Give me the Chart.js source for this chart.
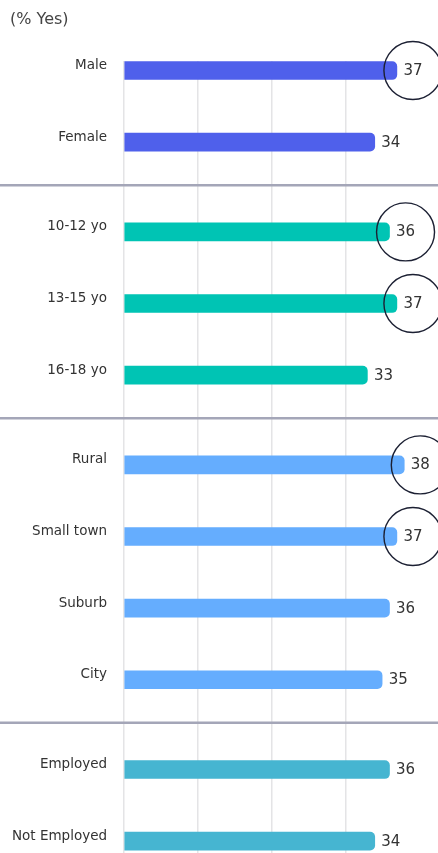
<!DOCTYPE html>
<html>
<head>
<meta charset="utf-8">
<script src="https://cdn.jsdelivr.net/npm/chart.js@4/dist/chart.umd.min.js"></script>
<style>
  html, body { margin: 0; padding: 0; background: #ffffff; }
  #wrap { width: 438px; height: 853px; }
</style>
</head>
<body>
<div id="wrap"><canvas id="c" width="438" height="853"></canvas></div>
<script>
// ---- data ----
const categories = ['Male', 'Female', '10-12 yo', '13-15 yo', '16-18 yo', 'Rural', 'Small town', 'Suburb', 'City', 'Employed', 'Not Employed'];
const values = [37, 34, 36, 37, 33, 38, 37, 36, 35, 36, 34];
const groups = [0, 0, 1, 1, 1, 2, 2, 2, 2, 3, 3];
const circled = [true, false, true, true, false, true, true, false, false, false, false];
const groupColors = ['#4F60EB', '#00C4B4', '#65ADFE', '#46B5D1'];
const titleText = '(% Yes)';

// ---- layout constants ----
const GROUP_GAP = 0.254;
const FONT = "'DejaVu Sans', 'Noto Sans', sans-serif";
const positions = categories.map((c, i) => i + groups[i] * GROUP_GAP);
const yMin = -0.133;
const yMax = positions[positions.length - 1] + 0.166;

const separators = {
  id: 'separators',
  beforeDatasetsDraw(chart) {
    const { ctx } = chart;
    const ys = chart.scales.y;
    ctx.save();
    ctx.strokeStyle = '#A4A6B8';
    ctx.lineWidth = 2.5;
    for (let i = 1; i < positions.length; i++) {
      if (groups[i] !== groups[i - 1]) {
        const yv = positions[i - 1] + (positions[i] - positions[i - 1]) * 0.48;
        const py = ys.getPixelForValue(yv);
        ctx.beginPath();
        ctx.moveTo(0, py);
        ctx.lineTo(chart.width, py);
        ctx.stroke();
      }
    }
    ctx.restore();
  }
};

const valueLabels = {
  id: 'valueLabels',
  afterDatasetsDraw(chart) {
    const { ctx } = chart;
    const meta = chart.getDatasetMeta(0);
    ctx.save();
    ctx.font = '15px ' + FONT;
    ctx.textAlign = 'left';
    ctx.textBaseline = 'middle';
    meta.data.forEach((bar, i) => {
      const txt = String(values[i]);
      const tx = bar.x + 6.5;
      ctx.fillStyle = '#333333';
      ctx.fillText(txt, tx, bar.y + 0.5);
      if (circled[i]) {
        const w = ctx.measureText(txt).width;
        ctx.beginPath();
        ctx.strokeStyle = '#1C2033';
        ctx.lineWidth = 1.4;
        ctx.arc(tx + w / 2, bar.y, 29, 0, Math.PI * 2);
        ctx.stroke();
      }
    });
    ctx.restore();
  }
};

new Chart(document.getElementById('c'), {
  type: 'bar',
  data: {
    datasets: [{
      data: values.map((v, i) => ({ x: v, y: positions[i] })),
      backgroundColor: groups.map(g => groupColors[g]),
      barThickness: 18,
      borderRadius: 5,
      borderSkipped: 'start'
    }]
  },
  options: {
    indexAxis: 'y',
    responsive: false,
    animation: false,
    devicePixelRatio: 1,
    layout: { padding: { left: 10, right: 19, top: 0, bottom: 0 } },
    plugins: {
      legend: { display: false },
      tooltip: { enabled: false },
      title: {
        display: true,
        text: titleText,
        align: 'start',
        color: '#444444',
        font: { family: FONT, size: 16, weight: 'normal' },
        padding: { top: 10, bottom: 31.8 }
      }
    },
    scales: {
      x: {
        type: 'linear',
        min: 0,
        max: 40,
        offset: false,
        ticks: { display: false, stepSize: 10 },
        grid: {
          color: c => (c.tick && c.tick.value >= 40) ? 'rgba(0,0,0,0)' : '#E4E4E6',
          lineWidth: 1.5,
          drawTicks: false,
          offset: false
        },
        border: { display: false }
      },
      y: {
        type: 'linear',
        reverse: true,
        offset: false,
        min: yMin,
        max: yMax,
        afterBuildTicks: s => { s.ticks = positions.map(v => ({ value: v })); },
        afterFit: s => { s.width = 114; s.paddingTop = 0; s.paddingBottom = 0; },
        ticks: {
          autoSkip: false,
          padding: 17,
          labelOffset: -5,
          color: '#333333',
          font: { family: FONT, size: 13.5 },
          callback: (v, i) => categories[i]
        },
        grid: { display: false, drawTicks: false, offset: false },
        border: { display: false }
      }
    }
  },
  plugins: [separators, valueLabels]
});
</script>
</body>
</html>
